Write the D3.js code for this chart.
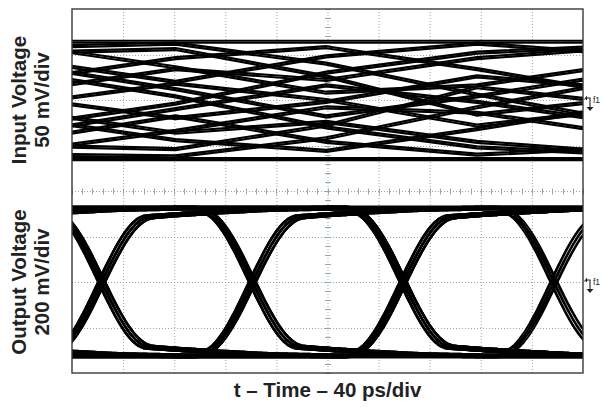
<!DOCTYPE html>
<html><head><meta charset="utf-8">
<script src="https://cdn.jsdelivr.net/npm/d3@7"></script>
<style>html,body{margin:0;padding:0;background:#fff;}svg{display:block;}</style>
</head><body>
<svg id="c" width="603" height="407"></svg>
<script>
// ---------------- data ----------------
const timeTicks = [0, 40, 80, 120, 160, 200, 240, 280, 320, 360, 400];   // ps, 40 ps/div
const divTicks  = [-4, -3, -2, -1, 0, 1, 2, 3, 4];                       // screen divisions
const xLabel = "t \u2013 Time \u2013 40 ps/div";
const inLabel = ["Input Voltage", "50 mV/div"];
const outLabel = ["Output Voltage", "200 mV/div"];

// input (lossy, ISI) traces: mV at bit-centre knots (ps)
const inKnots = [-37, 81, 199, 317, 435];
const inputTraces = [
  [64, 64, 64, 64, 64],
  [-65, -65, -65, -65, -65],
  [58, 62, 40, 6, -24],
  [-60, -62, -42, -8, 22],
  [30, 4, -30, -52, -60],
  [-28, -4, 30, 52, 60],
  [60, 36, 8, 16, 40],
  [-56, -34, -8, -14, -38],
  [10, 34, 22, 46, 58],
  [-12, -36, -24, -46, -58],
  [44, 20, 48, 62, 50],
  [-44, -18, -46, -60, -52],
  [2, -20, -2, 26, 12],
  [-4, 18, 0, -28, -10],
  [52, 56, 26, -16, 2],
  [-50, -54, -28, 14, -4],
  [22, 46, 58, 34, 6],
  [-20, -44, -56, -32, -6],
  [38, 12, -18, 4, 30],
  [-36, -10, 16, -2, -26]
];
const inJitter = [-1.1, 1.1];       // mV

// output eye: crossing times (ps), bit patterns, edge shape
const outCross = [-96, 22, 140, 258, 376, 494];
const outAmp = 325;                 // mV
const outPatterns = [
  "0000000", "1111111", "0101010", "1010101",
  "0011001", "1100110", "0110011", "1001100",
  "0001110", "1110001", "0111000", "1000111",
  "0010110", "1101001", "0100111", "1011000"
];
const stepT = [-40, -36, -32, -28, -24, -20, -16, -12, -8, -4, 0, 4, 8, 12, 16, 20, 24, 28, 32, 36, 40, 60, 90, 130, 180];
const stepV = [0, 0.006, 0.023, 0.051, 0.090, 0.138, 0.194, 0.257, 0.325, 0.397, 0.47,
               0.544, 0.615, 0.683, 0.746, 0.802, 0.850, 0.889, 0.917, 0.934, 0.94, 0.955, 0.972, 0.99, 1];
const outJitter = [{dt: -2.5, dv: 7}, {dt: 0, dv: 0}, {dt: 2.5, dv: -7}];

// ---------------- drawing ----------------
const svg = d3.select("#c");
const L = 72, R = 583, T = 9, B = 373;
const x = d3.scaleLinear().domain([0, 400]).range([L, R]);
const yDiv = d3.scaleLinear().domain([-4, 4]).range([B, T]);
const yIn = d3.scaleLinear().domain([-100, 100]).range([yDiv(0), yDiv(4)]);
const yOut = d3.scaleLinear().domain([-400, 400]).range([yDiv(-4), yDiv(0)]);
const step = d3.scaleLinear().domain(stepT).range(stepV).clamp(true);

svg.append("defs").append("clipPath").attr("id", "clip")
  .append("rect").attr("x", L).attr("y", T).attr("width", R - L).attr("height", B - T);

// grid
const gridCol = "#93aaaa";
const grid = svg.append("g").attr("stroke", gridCol).attr("stroke-width", 1).attr("stroke-dasharray", "1,2");
grid.selectAll("line.v").data(timeTicks.slice(1, -1)).join("line")
  .attr("x1", d => x(d) + 0.5).attr("x2", d => x(d) + 0.5).attr("y1", T).attr("y2", B);
grid.selectAll("line.h").data(divTicks.slice(1, -1)).join("line")
  .attr("y1", d => Math.round(yDiv(d)) + 0.5).attr("y2", d => Math.round(yDiv(d)) + 0.5).attr("x1", L).attr("x2", R);

// centre axes minor ticks
const cx = x(200), cy = Math.round(yDiv(0)) + 0.5;
const minorT = d3.range(0, 400.1, 8);
const minorD = d3.range(-4, 4.01, 0.2);
const mt = svg.append("g").attr("stroke", gridCol).attr("stroke-width", 1);
mt.selectAll("line.mx").data(minorT).join("line")
  .attr("x1", d => Math.round(x(d)) + 0.5).attr("x2", d => Math.round(x(d)) + 0.5)
  .attr("y1", cy - 3).attr("y2", cy + 3);
mt.selectAll("line.my").data(minorD).join("line")
  .attr("y1", d => Math.round(yDiv(d)) + 0.5).attr("y2", d => Math.round(yDiv(d)) + 0.5)
  .attr("x1", cx - 2.5).attr("x2", cx + 3.5);

// traces
const traces = svg.append("g").attr("clip-path", "url(#clip)")
  .attr("fill", "none").attr("stroke", "#000").attr("stroke-linejoin", "round");

const lineIn = d3.line().x(d => x(d[0])).y(d => yIn(d[1]));
inputTraces.forEach(tr => {
  inJitter.forEach(dv => {
    traces.append("path")
      .attr("d", lineIn(tr.map((v, i) => [inKnots[i], v + dv])))
      .attr("stroke-width", 2.2);
  });
});

const tOut = d3.range(-10, 412, 2);
const lineOut = d3.line().x(d => x(d[0])).y(d => yOut(d[1]));
outPatterns.forEach(p => {
  const bits = p.split("").map(Number);
  outJitter.forEach(j => {
    const pts = tOut.map(t => {
      let s = bits[0];
      for (let k = 1; k < bits.length; k++) s += (bits[k] - bits[k - 1]) * step(t - j.dt - outCross[k - 1]);
      return [t, -outAmp + 2 * outAmp * s + j.dv * (2 * s - 1)];
    });
    traces.append("path").attr("d", lineOut(pts)).attr("stroke-width", 1.9);
  });
});

// frame
svg.append("rect").attr("x", L).attr("y", T).attr("width", R - L).attr("height", B - T)
  .attr("fill", "none").attr("stroke", "#3a3a3a").attr("stroke-width", 1.4);

// f1 markers
function marker(y0) {
  const m = svg.append("g").attr("stroke", "#222").attr("fill", "none").attr("stroke-width", 1.1);
  m.append("path").attr("d", `M584.5,${y0 + 2.5} L586.5,${y0} L586.5,${y0 + 3} M586.5,${y0 + 1} H590 V${y0 + 11}`);
  svg.append("path").attr("d", `M586.5,${y0 + 10} L593.5,${y0 + 10} L590,${y0 + 14} Z`).attr("fill", "#222");
  svg.append("text").attr("x", 593).attr("y", y0 + 6).attr("font-size", 8.5)
    .attr("font-family", "Liberation Sans, Arial, sans-serif").attr("fill", "#222").text("f1");
}
marker(yIn(0) - 3);
marker(yOut(0) - 3);

// labels
const font = "Liberation Sans, Arial, Helvetica, sans-serif";
svg.append("text").attr("x", (L + R) / 2).attr("y", 397).attr("text-anchor", "middle")
  .attr("font-family", font).attr("font-weight", "bold").attr("font-size", 20.5).attr("fill", "#222")
  .text(xLabel);
function vlabel(lines, yc) {
  lines.forEach((s, i) => {
    const bx = 26 + i * 23;
    svg.append("text").attr("transform", `translate(${bx},${yc}) rotate(-90)`)
      .attr("text-anchor", "middle").attr("font-family", font).attr("font-weight", "bold")
      .attr("font-size", 20.5).attr("fill", "#222").text(s);
  });
}
vlabel(inLabel, yIn(0));
vlabel(outLabel, yOut(0));
</script>
</body></html>
